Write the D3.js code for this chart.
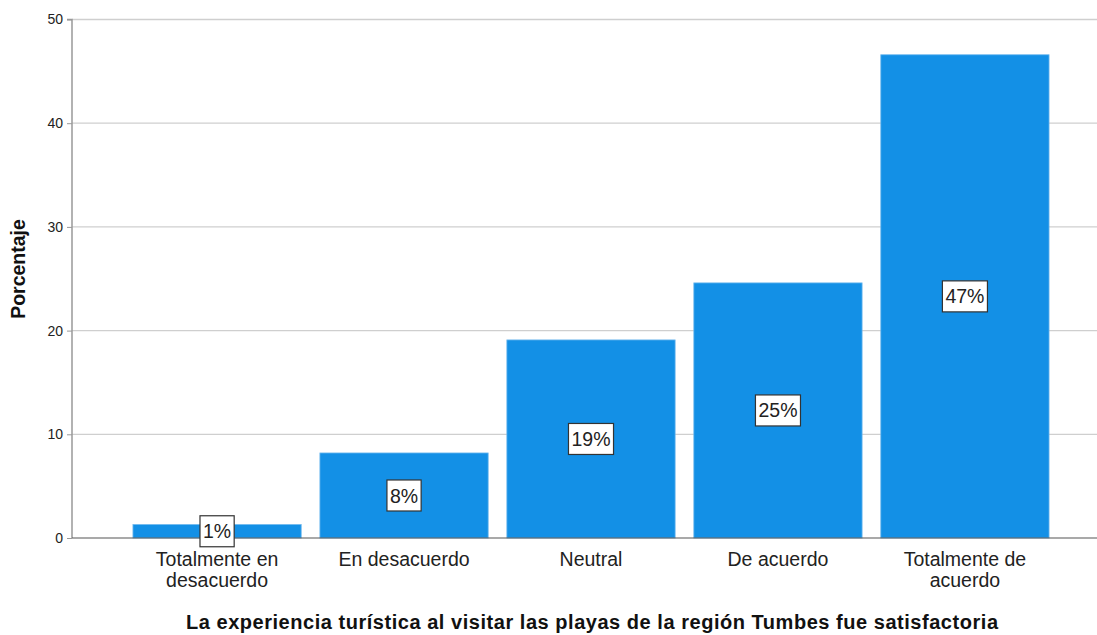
<!DOCTYPE html>
<html><head><meta charset="utf-8">
<script src="https://cdn.jsdelivr.net/npm/d3@7"></script>
<style>body{margin:0;background:#fff}svg{display:block;font-family:"Liberation Sans",Arial,sans-serif}</style>
</head><body><svg id="c" width="1097" height="635"></svg>
<script>
const categories = [["Totalmente en","desacuerdo"],["En desacuerdo"],["Neutral"],["De acuerdo"],["Totalmente de","acuerdo"]];
const values = [1.3, 8.2, 19.1, 24.6, 46.6];
const labels = ["1%","8%","19%","25%","47%"];
const yTicks = [0,10,20,30,40,50];

const svg = d3.select("#c");
const x = d3.scaleBand().domain(d3.range(values.length)).range([123.6,1058.4]).paddingInner(0.1).paddingOuter(0.05);
const y = d3.scaleLinear().domain([0,50]).range([538,19.5]);
const left = 72, right = 1097;

// gridlines
svg.append("g").selectAll("line").data(yTicks.filter(d=>d>0)).join("line")
  .attr("x1",left).attr("x2",right).attr("y1",d=>y(d)).attr("y2",d=>y(d))
  .attr("stroke","#cfcfcf").attr("stroke-width",1.3);

// bars
svg.append("g").selectAll("rect").data(values).join("rect")
  .attr("x",(d,i)=>x(i)).attr("width",x.bandwidth())
  .attr("y",d=>y(d)).attr("height",d=>y(0)-y(d))
  .attr("fill","#1390e6").attr("stroke","#6fb8ee").attr("stroke-width",0.8);

// axes
const yAxis = d3.axisLeft(y).tickValues(yTicks).tickSize(5).tickPadding(4);
const gy = svg.append("g").attr("transform",`translate(${left},0)`).call(yAxis);
gy.select(".domain").attr("stroke","#999").attr("stroke-width",1.5).attr("d",`M-5,${y(50)}H0V${y(0)}`);
gy.selectAll(".tick line").attr("stroke","#999");
gy.selectAll(".tick text").attr("font-size",14).attr("fill","#222").attr("font-family","Liberation Sans, Arial, sans-serif");
svg.append("line").attr("x1",left).attr("x2",right).attr("y1",y(0)).attr("y2",y(0)).attr("stroke","#555").attr("stroke-width",1.2);

// value labels
const lg = svg.append("g").selectAll("g").data(values).join("g")
  .attr("transform",(d,i)=>`translate(${x(i)+x.bandwidth()/2},${(y(d)+y(0))/2})`);
lg.append("text").text((d,i)=>labels[i]).attr("text-anchor","middle").attr("dy","0.36em")
  .attr("font-size",19.5).attr("fill","#222");
lg.each(function(){
  const g = d3.select(this); const b = g.select("text").node().getBBox();
  g.insert("rect","text").attr("x",b.x-3).attr("y",-15.5).attr("width",b.width+6).attr("height",31)
   .attr("fill","#fff").attr("stroke","#333").attr("stroke-width",1.2);
});

// category labels (one text element per line)
const lines = [];
categories.forEach((c,i)=>c.forEach((t,j)=>lines.push({i,j,t})));
svg.append("g").selectAll("text").data(lines).join("text")
  .attr("x",d=>x(d.i)+x.bandwidth()/2).attr("y",d=>566+d.j*21).attr("text-anchor","middle")
  .attr("font-size",19.5).attr("fill","#222").text(d=>d.t);

// titles
svg.append("text").attr("x",592).attr("y",628.5).attr("text-anchor","middle")
  .attr("font-size",20).attr("font-weight","bold").attr("fill","#111")
  .attr("textLength",812).attr("lengthAdjust","spacing")
  .text("La experiencia turística al visitar las playas de la región Tumbes fue satisfactoria");
svg.append("text").attr("transform","translate(25,269) rotate(-90)").attr("text-anchor","middle")
  .attr("font-size",19.5).attr("font-weight","bold").attr("fill","#111").text("Porcentaje");
</script></body></html>
